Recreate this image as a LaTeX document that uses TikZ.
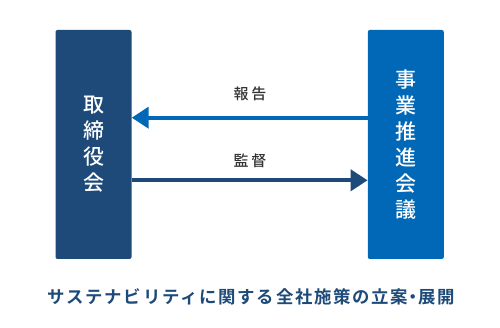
\documentclass[tikz,border=0pt]{standalone}
\usepackage{fontspec}
\setmainfont{Noto Sans CJK JP}
\newfontfamily\jpbox{Noto Sans CJK JP Medium}
\newfontfamily\jplabel[LetterSpace=18]{Noto Sans CJK JP Medium}
\newfontfamily\jpfoot[LetterSpace=10]{Noto Sans CJK JP Bold}
\definecolor{navy}{HTML}{1D4A78}
\definecolor{bright}{HTML}{0068B7}
\definecolor{labelgray}{HTML}{333333}
\usetikzlibrary{arrows.meta}
\begin{document}
\begin{tikzpicture}[x=1pt,y=-1pt,
  boxstyle/.style={rounded corners=2pt, inner sep=0pt, minimum width=76pt, minimum height=229pt},
  boxtext/.style={text=white, align=center, font=\jpbox\fontsize{21}{26}\selectfont},
  arrowline/.style={line width=4pt, -{Triangle[length=17pt,width=21pt]}},
  lbl/.style={text=labelgray, font=\jplabel\fontsize{15}{17}\selectfont}]
\useasboundingbox (0,0) rectangle (500,328);
\node[boxstyle, fill=navy] (left) at (93.5,144.5) {};
\node[boxstyle, fill=bright] (right) at (405.8,144.5) {};
\node[boxtext] (lt) at (left) {取\\締\\役\\会};
\node[boxtext] (rt) at (right) {事\\業\\推\\進\\会\\議};
\coordinate (rtop) at (right.west |- 0,117.7);
\coordinate (ltop) at (left.east |- 0,117.7);
\coordinate (lbot) at (left.east |- 0,180.3);
\coordinate (rbot) at (right.west |- 0,180.3);
\draw[arrowline, bright] (rtop) -- (ltop);
\draw[arrowline, navy] (lbot) -- (rbot);
\node[lbl] (hokoku) at (250,94) {報告};
\node[lbl] (kantoku) at (250,160.5) {監督};
\node[text=navy, font=\jpfoot\fontsize{17.4}{20}\selectfont] (foot) at (251.5,297) {サステナビリティに関する全社施策の立案\kern-3.5pt・\kern-3.5pt展開};
\end{tikzpicture}
\end{document}
